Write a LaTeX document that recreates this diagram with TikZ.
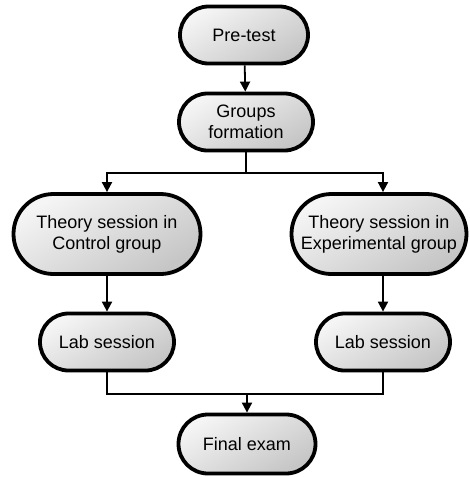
\documentclass[tikz,border=0pt]{standalone}
\usepackage{fontspec}
\setmainfont{Liberation Sans}
\usetikzlibrary{shapes.misc,arrows.meta}

\tikzset{
  stage/.style={rounded rectangle, draw=black, line width=3.8pt,
    top color=gray!8, bottom color=gray!45, shading angle=30,
    align=center, inner sep=0pt,
    font=\fontsize{18}{21}\selectfont},
  flow/.style={line width=1.8pt, -{Triangle[length=10pt,width=10pt]}},
  link/.style={line width=1.8pt},
}

\begin{document}
\begin{tikzpicture}[x=1pt,y=-1pt]
        \useasboundingbox (0,0) rectangle (470,477);

        % Middle column
        \node[stage, minimum width=128, minimum height=57] (pretest) at (244,35) {Pre-test};
        \node[stage, minimum width=134, minimum height=57] (groups) at (246,122) {Groups\\formation};

        % Theory sessions
        \node[stage, minimum width=187, minimum height=80] (theory-control) at (107,234) {Theory session in\\Control group};
        \node[stage, minimum width=175, minimum height=80] (theory-exp) at (379,234) {Theory session in\\Experimental group};

        % Lab sessions
        \node[stage, minimum width=134, minimum height=57] (lab-control) at (107,342) {Lab session};
        \node[stage, minimum width=134, minimum height=57] (lab-exp) at (383,342) {Lab session};

        % Final exam
        \node[stage, minimum width=137, minimum height=59] (final) at (247,444) {Final exam};

        \coordinate (split) at (246,173);
        \coordinate (merge) at (247,394);

        % Pre-test to groups, then split
        \draw[flow] (pretest) -- (groups);
        \draw[link] (groups) -- (split);
        \draw[flow] (split) -| (theory-control);
        \draw[flow] (split) -| (theory-exp.north -| lab-exp);

        % Theory to lab
        \draw[flow] (theory-control) -- (lab-control);
        \draw[flow] (theory-exp.south -| lab-exp) -- (lab-exp);

        % Merge into final exam
        \draw[link] (lab-control) |- (merge);
        \draw[link] (lab-exp) |- (merge);
        \draw[flow] (merge) -- (final);
\end{tikzpicture}
\end{document}
